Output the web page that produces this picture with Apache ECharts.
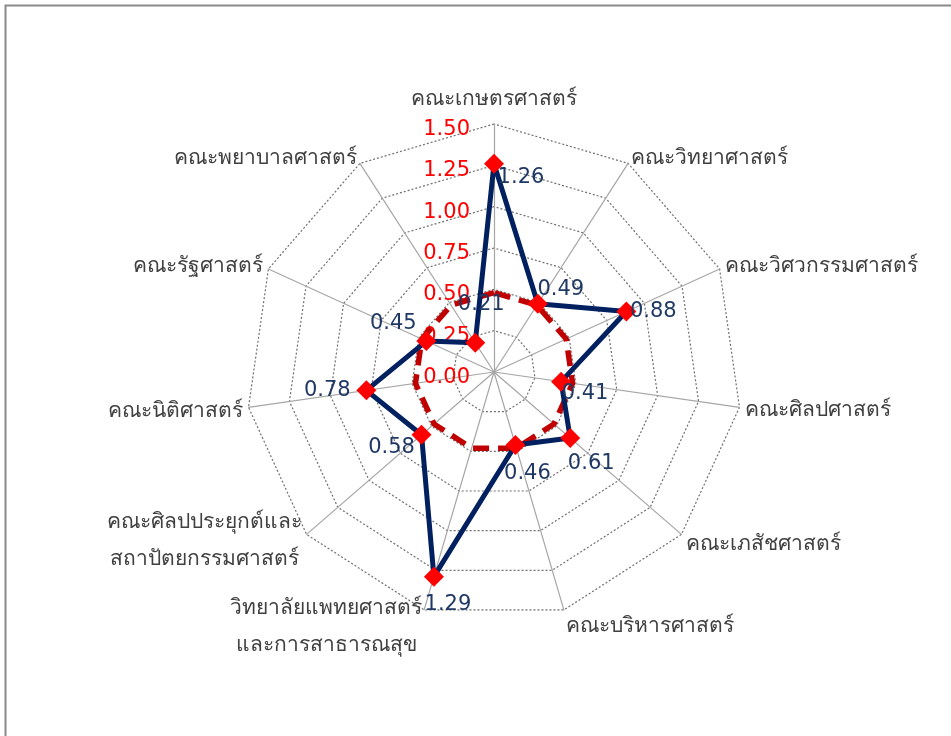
<!DOCTYPE html>
<html>
<head>
<meta charset="utf-8">
<script src="https://cdn.jsdelivr.net/npm/echarts@6/dist/echarts.min.js"></script>
<style>
html,body{margin:0;padding:0;background:#fff;}
#chart{width:951px;height:736px;}
</style>
</head>
<body>
<div id="chart"></div>
<script>
// ---- data (clockwise from top) ----
const categories = [
  'คณะเกษตรศาสตร์',
  'คณะวิทยาศาสตร์',
  'คณะวิศวกรรมศาสตร์',
  'คณะศิลปศาสตร์',
  'คณะเภสัชศาสตร์',
  'คณะบริหารศาสตร์',
  'วิทยาลัยแพทยศาสตร์\nและการสาธารณสุข',
  'คณะศิลปประยุกต์และ\nสถาปัตยกรรมศาสตร์',
  'คณะนิติศาสตร์',
  'คณะรัฐศาสตร์',
  'คณะพยาบาลศาสตร์'
];
const values = [1.26, 0.49, 0.88, 0.41, 0.61, 0.46, 1.29, 0.58, 0.78, 0.45, 0.21];
const referenceValues = [0.48, 0.48, 0.48, 0.48, 0.48, 0.48, 0.48, 0.48, 0.48, 0.48, 0.48];
const tickLabels = ['0.00', '0.25', '0.50', '0.75', '1.00', '1.25', '1.50'];
const axisMax = 1.5;

// ---- label placement style (dx, dy in px, relative to marker) ----
const labelOffsets = [
  [27, 14], [23, -14], [27, 0], [24, 12], [21, 26], [12, 29],
  [14, 28], [-30, 13], [-39, 0], [-33, -18], [6, -38]
];
// vertical nudges (px) for category names
const nameShiftY = [0, 0, 0, 2, 6, 11, 11, 3, 3, 0, 0];

const FONT = 'Tahoma, "DejaVu Sans", "Noto Sans", sans-serif';
const FS = 21;

// ECharts lays radar axes counter-clockwise; reorder so the picture runs clockwise.
const order = [0];
for (let k = categories.length - 1; k >= 1; k--) order.push(k);
const pick = function (arr) { return order.map(function (k) { return arr[k]; }); };

const rich = {};
labelOffsets.forEach(function (o, i) {
  const dx = o[0], dy = o[1];
  rich['d' + i] = {
    color: '#1f3864',
    fontSize: FS,
    fontFamily: FONT,
    padding: [Math.max(0, 2 * dy), Math.max(0, -2 * dx), Math.max(0, -2 * dy), Math.max(0, 2 * dx)]
  };
});

const nameRich = {};
nameShiftY.forEach(function (s, i) {
  nameRich['n' + i] = { align: 'center', color: '#404040', fontSize: FS, fontFamily: FONT, lineHeight: 37 };
  nameRich['p' + i] = { height: Math.max(0, 2 * s), lineHeight: Math.max(0, 2 * s), fontSize: 1 };
});

const chart = echarts.init(document.getElementById('chart'), null, { renderer: 'canvas' });

const indicator = pick(categories).map(function (name, i) {
  const ind = { name: name, min: 0, max: axisMax };
  if (i === 0) {
    ind.axisLabel = {
      show: true,
      color: '#ff0000',
      fontSize: FS,
      fontFamily: FONT,
      margin: 24,
      formatter: function (v) {
        const idx = Math.round(v / 0.25);
        return tickLabels[idx] != null ? '{t|' + tickLabels[idx] + '}' : '';
      },
      rich: {
        t: { color: '#ff0000', fontSize: FS, fontFamily: FONT, padding: [11, 0, 0, 0] }
      }
    };
  }
  return ind;
});

const orderedValues = pick(values);

chart.setOption({
  animation: false,
  backgroundColor: '#ffffff',
  graphic: [{
    type: 'rect',
    shape: { x: 5.5, y: 5.5, width: 1200, height: 1200 },
    style: { fill: null, stroke: '#8a8a8a', lineWidth: 2 },
    silent: true
  }],
  radar: {
    center: [494, 372],
    radius: 248,
    startAngle: 90,
    shape: 'polygon',
    splitNumber: 6,
    indicator: indicator,
    axisName: {
      color: '#404040',
      fontSize: FS,
      fontFamily: FONT,
      formatter: function (name) {
        const i = categories.indexOf(name);
        const lines = name.split('\n').map(function (s) { return '{n' + i + '|' + s + '}'; });
        const s = nameShiftY[i] || 0;
        if (s > 0) lines.unshift('{p' + i + '|}');
        return lines.join('\n');
      },
      rich: nameRich
    },
    nameGap: 6,
    axisLine: { lineStyle: { color: '#a6a6a6', width: 1.2 } },
    splitLine: { lineStyle: { color: '#6f6f6f', width: 1.2, type: [2, 2] } },
    splitArea: { show: false },
    axisTick: { show: false },
    axisLabel: { show: false }
  },
  series: [
    {
      type: 'radar',
      silent: true,
      z: 2,
      symbol: 'none',
      data: [{
        value: pick(referenceValues),
        lineStyle: { color: '#c00000', width: 5.5, type: [16, 9] }
      }]
    },
    {
      type: 'radar',
      silent: true,
      z: 3,
      symbol: 'diamond',
      symbolSize: 20,
      itemStyle: { color: '#ff0000', borderWidth: 0 },
      lineStyle: { color: '#002060', width: 5 },
      label: {
        show: true,
        position: 'inside',
        fontSize: FS,
        fontFamily: FONT,
        color: '#1f3864',
        formatter: function (p) {
          let dim = p.dimensionIndex;
          let v = Array.isArray(p.value) ? p.value[dim] : p.value;
          let orig;
          if (dim != null && dim >= 0 && dim < order.length) {
            orig = order[dim];
          } else {
            orig = values.indexOf(v);
          }
          if (v == null) v = values[orig];
          if (v == null) return '';
          return '{d' + orig + '|' + Number(v).toFixed(2) + '}';
        },
        rich: rich
      },
      data: [{
        value: orderedValues
      }]
    }
  ]
});
</script>
</body>
</html>
